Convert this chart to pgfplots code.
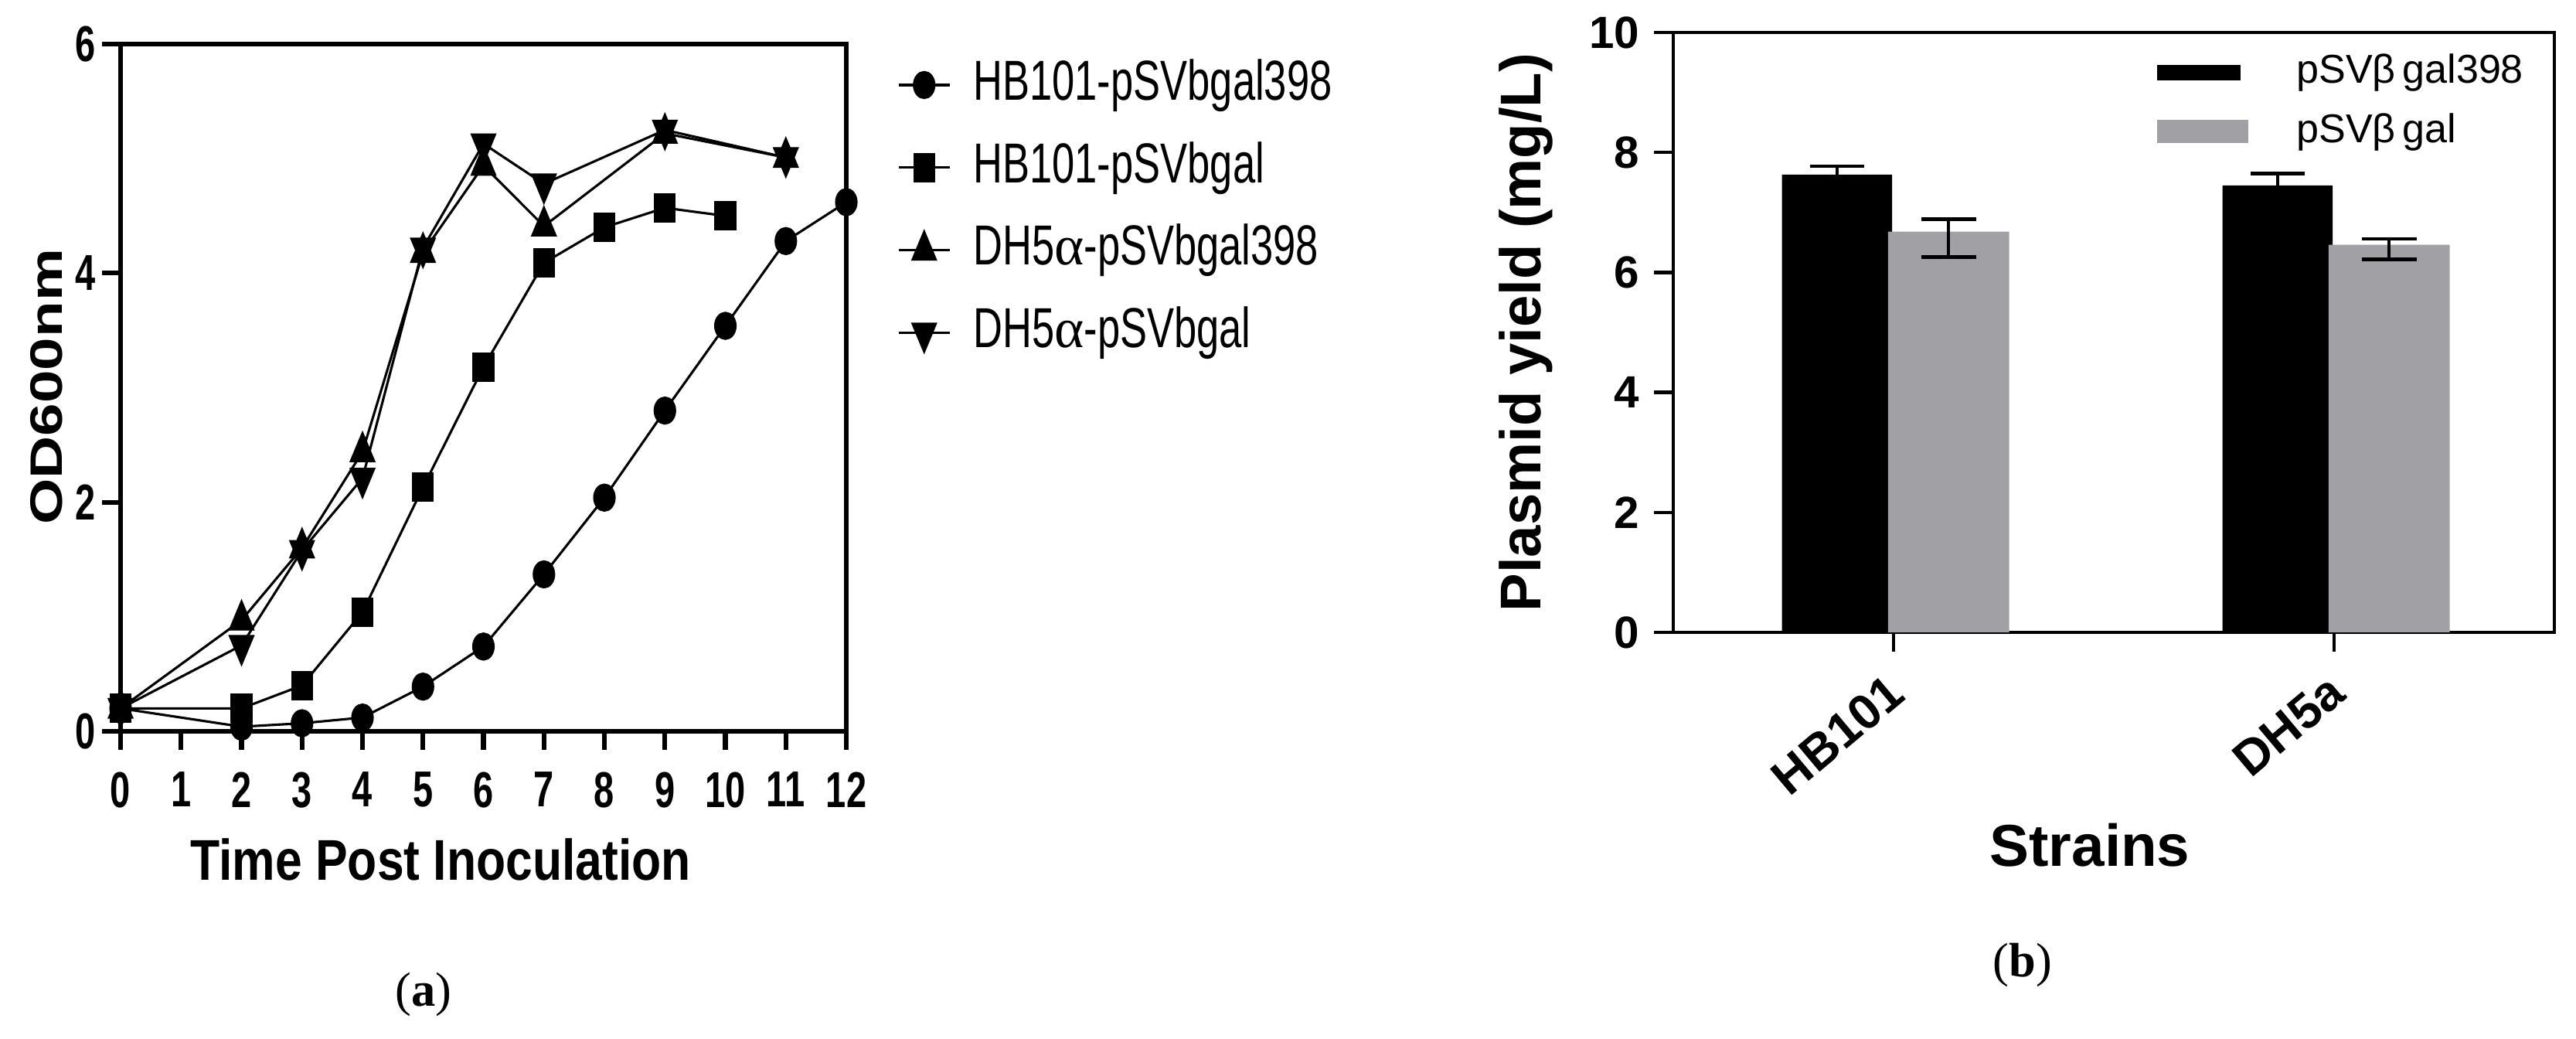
\documentclass[border=0pt]{standalone}
\usepackage{fontspec}
\setmainfont{Liberation Sans}
\newfontfamily\cond[FakeStretch=0.72]{Liberation Sans}
\newfontfamily\condw[FakeStretch=0.84]{Liberation Sans}
\newfontfamily\serif{Liberation Serif}
\usepackage{pgfplots}
\pgfplotsset{compat=1.18}
\definecolor{barGray}{RGB}{161,160,165}

\begin{document}
\begin{tikzpicture}
\path[use as bounding box] (0,0) rectangle (480pt,193.55pt);

% (a) growth curves
\begin{axis}[at={(22.47pt,57.32pt)}, anchor=south west, scale only axis,
  width=135.23pt, height=128.02pt, xmin=0, xmax=12, ymin=0, ymax=6,
  xtick={0,1,...,12}, ytick={0,2,4,6}, tick align=outside, tick pos=left,
  major tick length=3.4pt, clip=false,
  axis line style={line width=0.9pt}, every tick/.style={black,line width=0.9pt},
  /pgf/number format/assume math mode=true,
  xticklabel style={font=\cond\bfseries\fontsize{9.4}{10}\selectfont, inner sep=1pt, yshift=-3pt},
  yticklabel style={font=\cond\bfseries\fontsize{9.4}{10}\selectfont, inner sep=1pt},
  every axis plot/.append style={black, line width=0.45pt},
  legend cell align=left,
  legend image code/.code={\draw[mark repeat=2,mark phase=2,#1] plot coordinates {(0pt,0pt) (4.75pt,0pt) (9.5pt,0pt)};},
  legend style={at={(1.069,0.760)}, anchor=west, draw=none, fill=none, inner sep=0pt,
    row sep=5.9pt, column sep=4.2pt,
    nodes={inner sep=0pt, text height=7.5pt, text depth=2pt, font=\cond\fontsize{10.5}{11}\selectfont}},
]
\addplot[mark=*, mark options={solid, xscale=0.78}, mark size=2.4pt] coordinates {
  (0,0.20) (2,0.04) (3,0.07) (4,0.12) (5,0.39) (6,0.74) (7,1.37) (8,2.04) (9,2.80) (10,3.54) (11,4.28) (12,4.62)};
\addlegendentry{HB101-pSVbgal398}
\addplot[mark=square*, mark options={solid, xscale=0.72}, mark size=2.5pt] coordinates {
  (0,0.20) (2,0.20) (3,0.40) (4,1.04) (5,2.13) (6,3.18) (7,4.09) (8,4.40) (9,4.57) (10,4.50)};
\addlegendentry{HB101-pSVbgal}
\addplot[mark=triangle*, mark options={solid, xscale=0.72}, mark size=3.4pt] coordinates {
  (0,0.20) (2,0.97) (3,1.60) (4,2.44) (5,4.18) (6,4.94) (7,4.41) (9,5.22) (11,5.01)};
\addlegendentry{DH5{\serif α}-pSVbgal398}
\addplot[mark=triangle*, mark options={solid, xscale=0.72, rotate=180}, mark size=3.4pt] coordinates {
  (0,0.20) (2,0.75) (3,1.58) (4,2.21) (5,4.22) (6,5.13) (7,4.78) (9,5.25) (11,5.01)};
\addlegendentry{DH5{\serif α}-pSVbgal}
\end{axis}

% (b) plasmid yield; bars sit left/right of the category tick
\begin{axis}[at={(311.78pt,75.75pt)}, anchor=south west, scale only axis,
  width=164.17pt, height=111.75pt, xmin=-0.5, xmax=1.5, ymin=0, ymax=10,
  xtick={0,1}, xticklabels={HB101,DH5a}, ytick={0,2,...,10},
  tick align=outside, tick pos=left, major tick length=3.6pt,
  axis line style={line width=0.65pt}, every tick/.style={black,line width=0.65pt},
  /pgf/number format/assume math mode=true,
  yticklabel style={font=\bfseries\fontsize{8.4}{9}\selectfont, inner sep=1pt, xshift=-1.5pt},
  xticklabel style={font=\bfseries\fontsize{9.2}{10}\selectfont, inner sep=0pt, xshift=-1.5pt, yshift=-3.5pt, rotate=40, anchor=north east},
  legend cell align=left,
  legend style={at={(0.548,0.884)}, anchor=west, draw=none, fill=none, inner sep=0pt,
    row sep=4pt, column sep=9pt,
    nodes={inner sep=0pt, text height=5.5pt, text depth=1.5pt, font=\fontsize{7.5}{8}\selectfont}},
]
\addplot[ybar, bar width=0.25, bar shift=0pt, fill=black, draw=none,
  legend image code/.code={\fill[black] (0pt,-1.45pt) rectangle (15.6pt,1.45pt);},
  error bars/.cd, y dir=both, y explicit,
  error bar style={black, line width=0.65pt},
  error mark options={rotate=90, mark size=5.1pt, line width=0.7pt, black}]
  coordinates {(-0.128,7.63) +- (0,0.14) (0.872,7.45) +- (0,0.20)};
\addlegendentry{pSVβ\,gal398}
\addplot[ybar, bar width=0.275, bar shift=0pt, fill=barGray, draw=none,
  legend image code/.code={\fill[barGray] (0pt,-2.15pt) rectangle (17pt,2.15pt);},
  error bars/.cd, y dir=both, y explicit,
  error bar style={black, line width=0.65pt},
  error mark options={rotate=90, mark size=5.1pt, line width=0.7pt, black}]
  coordinates {(0.125,6.68) += (0,0.21) -= (0,0.42) (1.125,6.46) += (0,0.10) -= (0,0.24)};
\addlegendentry{pSVβ\,gal}
\end{axis}

% axis titles and panel letters
\node[rotate=90] at (8.64pt,121.5pt) {\scalebox{1}[0.77]{\bfseries\fontsize{11}{12}\selectfont OD600nm}};
\node at (82.1pt,33.4pt) {\condw\bfseries\fontsize{10.7}{12}\selectfont Time Post Inoculation};
\node[rotate=90] at (284.4pt,131.6pt) {\bfseries\fontsize{10.7}{12}\selectfont Plasmid yield (mg/L)};
\node at (389.4pt,36.1pt) {\bfseries\fontsize{11}{12}\selectfont Strains};
\node at (78.9pt,8.35pt) {\serif\fontsize{9}{10}\selectfont (\textbf{a})};
\node at (376.9pt,13.8pt) {\serif\fontsize{9}{10}\selectfont (\textbf{b})};
\end{tikzpicture}
\end{document}
